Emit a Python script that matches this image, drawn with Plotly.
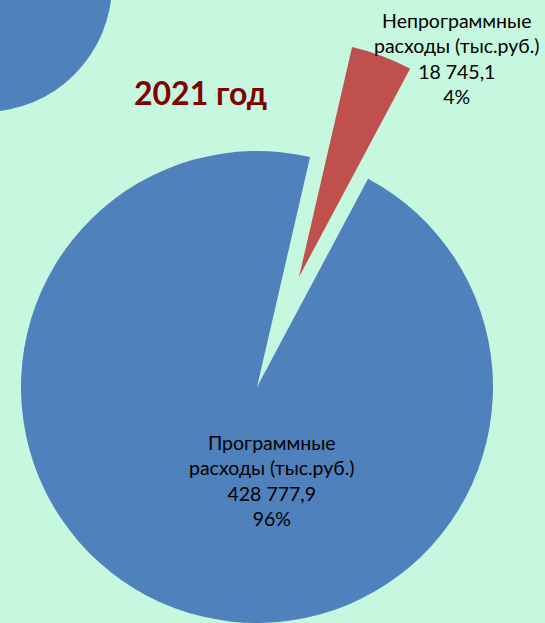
import plotly.graph_objects as go

labels = ["Непрограммные<br>расходы (тыс.руб.)", "Программные<br>расходы (тыс.руб.)"]
values = [18745.1, 428777.9]
colors = ["#C0504D", "#4F81BD"]
title_text = "2021 год"

W, H = 545, 623
BG = "#c6f8df"


def fmt(v):
    return f"{v:,.1f}".replace(",", " ").replace(".", ",")


total = sum(values)
pcts = [round(v / total * 100) for v in values]
texts = [f"{l}<br>{fmt(v)}<br>{p}%" for l, v, p in zip(labels, values, pcts)]


def dom(cx, cy, r):
    # pixel centre/radius -> paper domain (margins are zero)
    return dict(x=[(cx - r) / W, (cx + r) / W], y=[1 - (cy + r) / H, 1 - (cy - r) / H])


fig = go.Figure()
# main pie: only the programme slice is filled
fig.add_trace(go.Pie(
    values=values, sort=False, direction="clockwise", rotation=13,
    marker=dict(colors=["rgba(0,0,0,0)", colors[1]], line=dict(width=0)),
    textinfo="none", hoverinfo="skip", showlegend=False,
    domain=dom(257, 387, 236),
))
# exploded slice drawn as a shifted copy of the same pie
fig.add_trace(go.Pie(
    values=values, sort=False, direction="clockwise", rotation=13,
    marker=dict(colors=[colors[0], "rgba(0,0,0,0)"], line=dict(width=0)),
    textinfo="none", hoverinfo="skip", showlegend=False,
    domain=dom(299, 277, 236),
))

font = dict(family="Lato, Noto Sans, sans-serif", size=19.5, color="#000000")
fig.add_annotation(x=457 / W, y=1 - 59 / H, xref="paper", yref="paper",
                   xanchor="center", yanchor="middle",
                   text=texts[0], showarrow=False, font=font)
fig.add_annotation(x=272 / W, y=1 - 480 / H, xref="paper", yref="paper",
                   xanchor="center", yanchor="middle",
                   text=texts[1], showarrow=False, font=font)
fig.add_annotation(x=200 / W, y=1 - 92 / H, xref="paper", yref="paper",
                   xanchor="center", yanchor="middle",
                   text=f"<b>{title_text}</b>", showarrow=False,
                   font=dict(family="Lato, sans-serif", size=32, color="#800000"))

# corner of a neighbouring pie peeking in at top-left
fig.add_shape(type="circle", xref="paper", yref="paper",
              x0=(-16 - 128) / W, x1=(-16 + 128) / W,
              y0=1 - (-16 + 128) / H, y1=1 - (-16 - 128) / H,
              fillcolor=colors[1], line=dict(width=0), layer="below")

fig.update_layout(
    width=W, height=H, margin=dict(l=0, r=0, t=0, b=0),
    paper_bgcolor=BG, plot_bgcolor=BG,
)
fig.write_html("out.html", config={"displayModeBar": False},
               post_script="document.body.style.margin='0';")
